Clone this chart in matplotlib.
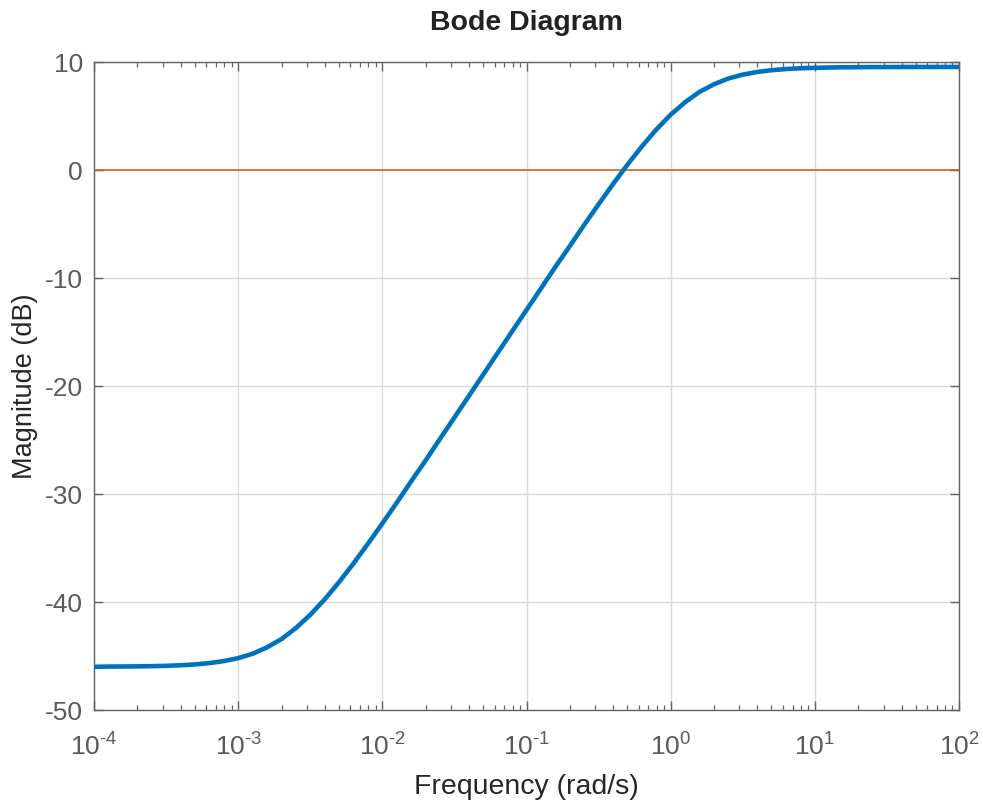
import matplotlib
matplotlib.use("Agg")
import matplotlib.pyplot as plt
from matplotlib.ticker import LogLocator, FixedLocator, NullFormatter

plt.rcParams['font.family'] = ['Liberation Sans', 'DejaVu Sans']
plt.rcParams['mathtext.fontset'] = 'custom'
plt.rcParams['mathtext.rm'] = 'Liberation Sans'
plt.rcParams['mathtext.it'] = 'Liberation Sans'
plt.rcParams['mathtext.default'] = 'regular'
plt.rcParams['axes.unicode_minus'] = False

# Frequency (rad/s) and magnitude (dB)
freq = [1.0e-4, 1.26e-4, 1.58e-4, 2.0e-4, 2.51e-4, 3.16e-4, 3.98e-4, 5.01e-4, 6.31e-4, 7.94e-4,
        1.0e-3, 1.26e-3, 1.58e-3, 2.0e-3, 2.51e-3, 3.16e-3, 3.98e-3, 5.01e-3, 6.31e-3, 7.94e-3,
        1.0e-2, 1.26e-2, 1.58e-2, 2.0e-2, 2.51e-2, 3.16e-2, 3.98e-2, 5.01e-2, 6.31e-2, 7.94e-2,
        1.0e-1, 1.26e-1, 1.58e-1, 2.0e-1, 2.51e-1, 3.16e-1, 3.98e-1, 5.01e-1, 6.31e-1, 7.94e-1,
        1.0, 1.26, 1.58, 2.0, 2.51, 3.16, 3.98, 5.01, 6.31, 7.94,
        10.0, 12.6, 15.8, 20.0, 25.1, 31.6, 39.8, 50.1, 63.1, 79.4, 100.0]
mag_db = [-46.00, -45.98, -45.97, -45.96, -45.94, -45.91, -45.86, -45.78, -45.66, -45.47,
          -45.20, -44.79, -44.21, -43.43, -42.42, -41.19, -39.76, -38.16, -36.43, -34.61,
          -32.73, -30.80, -28.85, -26.88, -24.90, -22.92, -20.93, -18.94, -16.94, -14.95,
          -12.96, -10.97, -9.00, -7.03, -5.09, -3.18, -1.31, 0.49, 2.18, 3.74,
          5.12, 6.28, 7.22, 7.94, 8.47, 8.83, 9.08, 9.24, 9.35, 9.42,
          9.46, 9.49, 9.51, 9.52, 9.53, 9.53, 9.54, 9.54, 9.54, 9.54, 9.54]
ref_level = [0, 0]
ref_freq = [1e-4, 1e2]

y_ticks = [-50, -40, -30, -20, -10, 0, 10]
x_ticks = [1e-4, 1e-3, 1e-2, 1e-1, 1e0, 1e1, 1e2]
x_exponents = ['-4', '-3', '-2', '-1', '0', '1', '2']

fig = plt.figure(figsize=(9.83, 8.05), dpi=100)
ax = fig.add_axes([94/983, 1-710/805, (959-94)/983, (710-62)/805])

ax.plot(ref_freq, ref_level, color='#D95319', lw=1.1, zorder=2)
ax.plot(freq, mag_db, color='#0072BD', lw=3.3, zorder=3, solid_capstyle='butt')

ax.set_xscale('log')
ax.set_xlim(1e-4, 1e2)
ax.set_ylim(-50, 10)
ax.set_yticks(y_ticks)
ax.set_yticklabels([str(v) for v in y_ticks])
ax.xaxis.set_major_locator(FixedLocator(x_ticks))
ax.set_xticklabels(['$10^{\\text{%s}}$' % e for e in x_exponents])
ax.xaxis.set_minor_locator(LogLocator(base=10, subs=range(2, 10), numticks=20))
ax.xaxis.set_minor_formatter(NullFormatter())

axis_col = '#636363'
for s in ax.spines.values():
    s.set_color(axis_col)
    s.set_linewidth(1.0)
ax.tick_params(which='both', direction='in', top=True, right=True, colors=axis_col,
               labelcolor='#5a5a5a', labelsize=19)
ax.tick_params(which='major', length=6.5, width=1.0)
ax.tick_params(axis='y', which='major', pad=8)
ax.tick_params(axis='x', which='major', pad=16.5)
ax.tick_params(which='minor', length=3.5, width=0.9)

ax.grid(True, which='major', color='#dadada', lw=1.0)
ax.set_axisbelow(True)

ax.set_title('Bode Diagram', fontsize=20.5, fontweight='bold', color='#222222', pad=23)
ax.set_xlabel('Frequency (rad/s)', fontsize=20.5, color='#262626', labelpad=10)
ax.set_ylabel('Magnitude (dB)', fontsize=19.5, color='#262626', labelpad=5)

fig.savefig('out.png', dpi=100)
